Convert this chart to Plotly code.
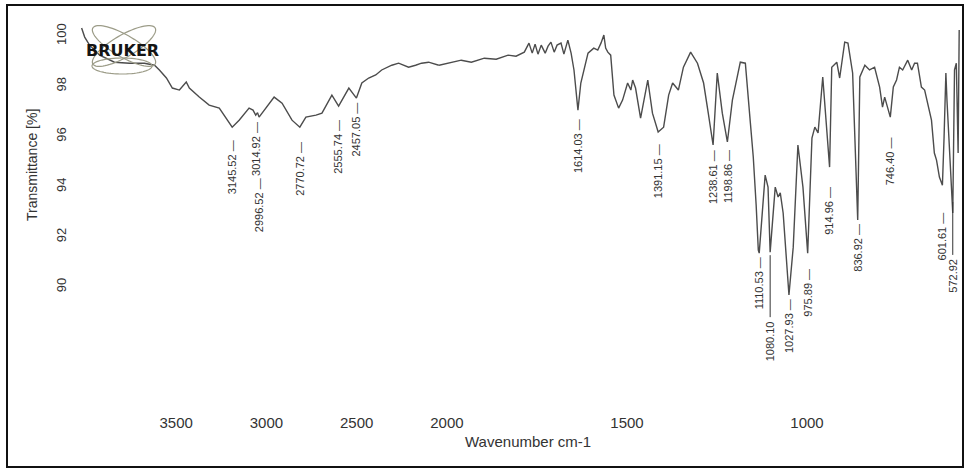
import numpy as np
import plotly.graph_objects as go

# FT-IR spectrum (wavenumber in cm-1, transmittance in %)
wavenumber = [
    3980, 3963, 3936, 3880, 3798, 3715, 3632, 3576, 3549, 3510, 3477, 3438, 3400, 3383,
    3328, 3273, 3217, 3173, 3145.5, 3107, 3052, 3030, 3015, 3005, 2996.5, 2913, 2869,
    2814, 2770.7, 2737, 2681, 2648, 2593, 2555.7, 2499, 2457, 2427, 2389, 2350, 2317,
    2261, 2223, 2195, 2168, 2129, 2096, 2057, 2000,
    1965, 1938, 1910, 1874, 1841, 1808, 1786, 1763, 1750, 1741, 1733, 1725, 1716, 1705,
    1697, 1689, 1680, 1672, 1661, 1653, 1642, 1633, 1625, 1614.0, 1606, 1586, 1570, 1559,
    1550, 1542, 1537, 1531, 1523, 1514, 1501, 1490, 1476, 1467, 1462, 1454, 1440, 1420,
    1407, 1391.2, 1376, 1362, 1351, 1335, 1321, 1301, 1282, 1265, 1252, 1238.6, 1227,
    1213, 1198.9, 1185, 1163, 1149, 1135, 1127, 1119, 1113, 1110.5, 1094, 1086, 1080.1,
    1066, 1058, 1052, 1044, 1027.9, 1016, 1003, 989, 975.9, 964, 956, 947, 934, 915.0,
    909, 895, 887, 873, 864, 851, 836.9, 831, 817, 804, 790, 776, 768, 762, 746.4, 738,
    729, 721, 712, 698, 687, 679, 671, 660, 651, 643, 632, 624, 618, 610, 601.6, 597,
    592, 589, 572.9, 568, 563, 558, 555,
]
transmittance = [
    100.32, 99.96, 99.64, 99.24, 98.96, 98.92, 98.92, 98.84, 98.65, 98.33, 97.93, 97.85,
    98.17, 97.93, 97.57, 97.25, 97.13, 96.65, 96.37, 96.65, 97.13, 97.05, 96.85, 96.95,
    96.77, 97.57, 97.33, 96.65, 96.37, 96.77, 96.85, 96.93, 97.65, 97.21, 97.93, 97.53,
    98.13, 98.33, 98.45, 98.65, 98.84, 98.92, 98.84, 98.76, 98.84, 98.92, 98.96, 98.84,
    98.96, 99.04, 98.96, 99.12, 99.08, 99.24, 99.20, 99.36, 99.72, 99.32, 99.68, 99.28,
    99.64, 99.32, 99.60, 99.76, 99.36, 99.64, 99.72, 99.28, 99.84, 99.32, 98.65, 97.05,
    98.13, 99.32, 99.52, 99.44, 99.72, 100.04, 99.52, 99.36, 99.24, 97.65, 97.13, 97.45,
    98.13, 97.85, 98.25, 97.93, 96.73, 98.25, 96.93, 96.18, 96.37, 97.65, 98.13, 97.85,
    98.76, 99.36, 98.92, 98.13, 96.93, 95.66, 98.53, 96.93, 95.78, 97.45, 98.96, 98.92,
    96.53, 95.18, 93.27, 91.47, 91.35, 94.46, 93.98, 91.39, 93.98, 93.59, 93.75, 92.95,
    89.68, 91.59, 95.66, 93.98, 91.35, 95.94, 96.37, 96.14, 98.37, 94.78, 98.76, 98.96,
    98.33, 99.76, 99.72, 98.53, 92.67, 98.37, 98.84, 98.65, 98.76, 97.97, 97.17, 97.57,
    96.77, 97.97, 98.25, 98.76, 98.65, 99.04, 98.65, 98.92, 98.92, 97.97, 97.85, 97.33,
    96.65, 95.34, 95.06, 94.38, 94.06, 95.98, 98.53, 97.45, 92.95, 98.65, 98.92, 95.34,
    100.24,
]

# Picked peaks and where each vertical label starts (in % transmittance)
peak_wavenumbers = [3145.52, 3014.92, 2996.52, 2770.72, 2555.74, 2457.05, 1614.03,
                    1391.15, 1238.61, 1198.86, 1110.53, 1080.10, 1027.93, 975.89,
                    914.96, 836.92, 746.40, 601.61, 572.92]
label_top = [95.94, 96.65, 94.42, 95.86, 96.73, 97.45, 96.77, 95.78, 95.54, 95.54,
             91.27, 88.72, 89.60, 90.80, 94.06, 92.59, 96.06, 93.07, 91.20]
# Peaks whose label hangs from a long leader line: (wavenumber, leader top, leader bottom)
leaders = [(1080.10, 91.27, 88.80), (572.92, 93.39, 91.28)]

x_ticks_high = [3500, 3000, 2500, 2000]
x_ticks_low = [1500, 1000]
y_ticks = [90, 92, 94, 96, 98, 100]

W, H = 967, 472
ML, MR, MT, MB = 78, 6, 10, 60
split = 0.4088          # the scale doubles below 2000 cm-1
LINE = "#4c4c4c"
TXT = "#333333"
FONT = "Liberation Sans, Arial, sans-serif"

wn = np.array(wavenumber)
tr = np.array(transmittance)
hi = wn >= 2000
lo = wn <= 2000

fig = go.Figure()
fig.add_trace(go.Scatter(x=wn[hi], y=tr[hi], mode="lines", xaxis="x", yaxis="y",
                         line=dict(color=LINE, width=1.4), hoverinfo="skip"))
fig.add_trace(go.Scatter(x=wn[lo], y=tr[lo], mode="lines", xaxis="x2", yaxis="y",
                         line=dict(color=LINE, width=1.4), hoverinfo="skip"))

annotations = []
shapes = []
leader_map = {w: (a, b) for w, a, b in leaders}
for w, top in zip(peak_wavenumbers, label_top):
    xref = "x" if w >= 2000 else "x2"
    text = f"{w:.2f}" if w in leader_map else f"{w:.2f} \u2014"
    annotations.append(dict(x=w, y=top, xref=xref, yref="y", text=text,
                            textangle=-90, showarrow=False, xanchor="center",
                            yanchor="top", font=dict(family=FONT, size=11, color=TXT)))
    if w in leader_map:
        a, b = leader_map[w]
        shapes.append(dict(type="line", xref=xref, yref="y", x0=w, x1=w, y0=a, y1=b,
                           line=dict(color=TXT, width=1)))


def paper(px, py):
    """Convert page pixels into paper coordinates."""
    return (px - ML) / (W - ML - MR), (H - MB - py) / (H - MT - MB)


# Axis titles
tx, ty = paper(32, 165)
annotations.append(dict(x=tx, y=ty, xref="paper", yref="paper", text="Transmittance [%]",
                        textangle=-90, showarrow=False, xanchor="center", yanchor="middle",
                        font=dict(family=FONT, size=14, color=TXT)))
tx, ty = paper(528, 441)
annotations.append(dict(x=tx, y=ty, xref="paper", yref="paper", text="Wavenumber cm-1",
                        showarrow=False, xanchor="center", yanchor="middle",
                        font=dict(family=FONT, size=15, color=TXT)))

# Instrument logo: orbit ellipses and name
def ellipse_path(cx, cy, rx, ry, angle_deg):
    t = np.linspace(0, 2 * np.pi, 72)
    a = np.radians(angle_deg)
    xs = cx + rx * np.cos(t) * np.cos(a) - ry * np.sin(t) * np.sin(a)
    ys = cy + rx * np.cos(t) * np.sin(a) + ry * np.sin(t) * np.cos(a)
    pts = [paper(x, y) for x, y in zip(xs, ys)]
    return "M " + " L ".join(f"{p[0]:.5f},{p[1]:.5f}" for p in pts) + " Z"


for cx, cy, rx, ry, ang in [(124, 46, 36, 11, 30), (124, 46, 36, 11, -30), (122, 66, 30, 8, 0)]:
    shapes.append(dict(type="path", xref="paper", yref="paper",
                       path=ellipse_path(cx, cy, rx, ry, ang),
                       line=dict(color="#9c9c88", width=1.2)))
tx, ty = paper(122, 50)
annotations.append(dict(x=tx, y=ty, xref="paper", yref="paper", text="<b>BRUKER</b>",
                        showarrow=False, xanchor="center", yanchor="middle",
                        font=dict(family="DejaVu Sans, Arial", size=16, color="#151515")))

# Outer frame
x0, y0 = paper(7, 467)
x1, y1 = paper(963, 5)
shapes.append(dict(type="rect", xref="paper", yref="paper", x0=x0, y0=y0, x1=x1, y1=y1,
                   line=dict(color="#111111", width=2)))

axis_common = dict(showgrid=False, zeroline=False, showline=False, ticks="",
                   ticklabelshift=-8,
                   tickfont=dict(family=FONT, size=15, color=TXT))
fig.update_layout(
    width=W, height=H, autosize=False,
    margin=dict(l=ML, r=MR, t=MT, b=MB, autoexpand=False),
    paper_bgcolor="white", plot_bgcolor="white",
    showlegend=False,
    xaxis=dict(domain=[0, split], range=[4000, 1999.5], tickvals=x_ticks_high,
               anchor="y", automargin=False, **axis_common),
    xaxis2=dict(domain=[split, 1], range=[2000, 550], tickvals=x_ticks_low,
                anchor="y", automargin=False, **axis_common),
    yaxis=dict(range=[85.02, 101.04], tickvals=y_ticks, tickangle=-90, automargin=False,
               ticklabelstandoff=8, showgrid=False, zeroline=False, showline=False,
               ticks="", tickfont=dict(family=FONT, size=13, color=TXT)),
    annotations=annotations,
    shapes=shapes,
)

fig.write_html("out.html", config={"responsive": False})
